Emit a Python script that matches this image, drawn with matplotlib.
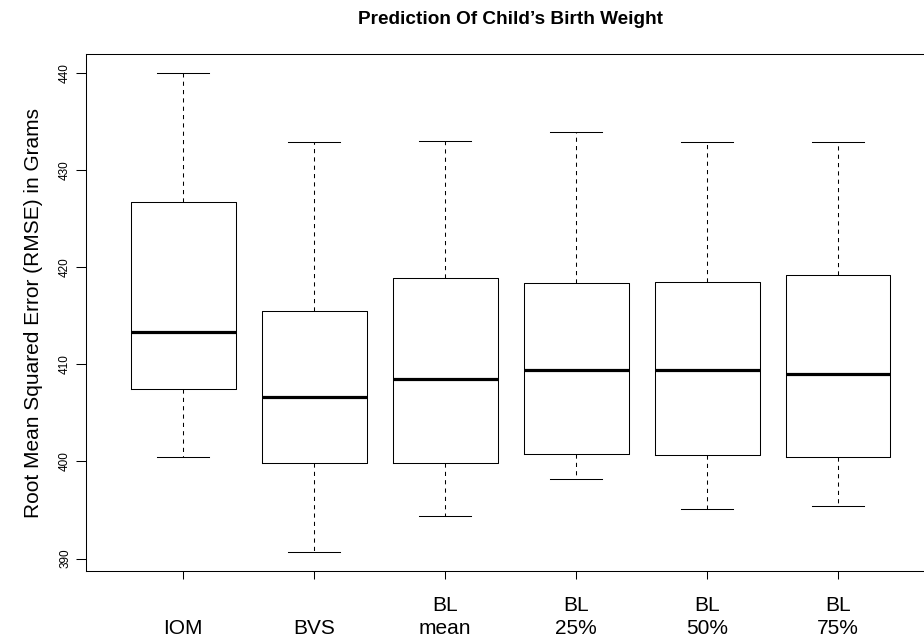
import matplotlib
matplotlib.use("Agg")
import matplotlib.pyplot as plt

plt.rcParams['font.family'] = ['Liberation Sans', 'DejaVu Sans']

# Box statistics per method (RMSE in grams)
methods = ["IOM", "BVS", "BL\nmean", "BL\n25%", "BL\n50%", "BL\n75%"]
whisker_low = [400.45, 390.69, 394.38, 398.17, 395.10, 395.45]
q1 = [407.46, 399.86, 399.86, 400.79, 400.62, 400.48]
medians = [413.29, 406.67, 408.49, 409.47, 409.47, 408.98]
q3 = [426.72, 415.48, 418.85, 418.36, 418.53, 419.21]
whisker_high = [440.00, 432.86, 432.97, 433.90, 432.93, 432.93]

stats = []
for i in range(len(methods)):
    stats.append(dict(whislo=whisker_low[i], q1=q1[i], med=medians[i],
                      q3=q3[i], whishi=whisker_high[i], fliers=[]))

fig = plt.figure(figsize=(9.24, 6.39), dpi=100)
ax = fig.add_axes([86.4 / 924, 68 / 639, 848.6 / 924, 517 / 639])

lw = 0.75
ax.bxp(stats, positions=range(1, len(methods) + 1), widths=0.8,
       showfliers=False, patch_artist=False,
       boxprops=dict(color='black', linewidth=lw),
       medianprops=dict(color='black', linewidth=2.3, solid_capstyle='butt'),
       whiskerprops=dict(color='black', linewidth=lw, linestyle=(0, (4, 4))),
       capprops=dict(color='black', linewidth=lw),
       capwidths=0.4)

# R-style 4% padding around the data range
lo, hi = min(whisker_low), max(whisker_high)
pad = 0.04 * (hi - lo)
ax.set_ylim(lo - pad, hi + pad)
ax.set_xlim(0.26, len(methods) + 0.74)

for s in ax.spines.values():
    s.set_linewidth(lw)
    s.set_color('black')

ax.set_yticks([390, 400, 410, 420, 430, 440])
ax.set_yticklabels(['390', '400', '410', '420', '430', '440'],
                   rotation=90, va='center', fontsize=8.5)
ax.tick_params(axis='y', length=7, width=lw, pad=4)

ax.set_xticks(range(1, len(methods) + 1))
ax.set_xticklabels([m if "\n" in m else "\n" + m for m in methods],
                   fontsize=15, linespacing=1.3)
ax.tick_params(axis='x', length=6, width=lw, pad=12)

ax.set_ylabel('Root Mean Squared Error (RMSE) in Grams', fontsize=15)
ax.yaxis.set_label_coords(-0.051, 0.5)

fig.text(510 / 924, 1 - 20 / 639, "Prediction Of Child\u2019s Birth Weight",
         ha='center', va='center', fontsize=13.7, fontweight='bold')

fig.savefig('out.png', dpi=100)
